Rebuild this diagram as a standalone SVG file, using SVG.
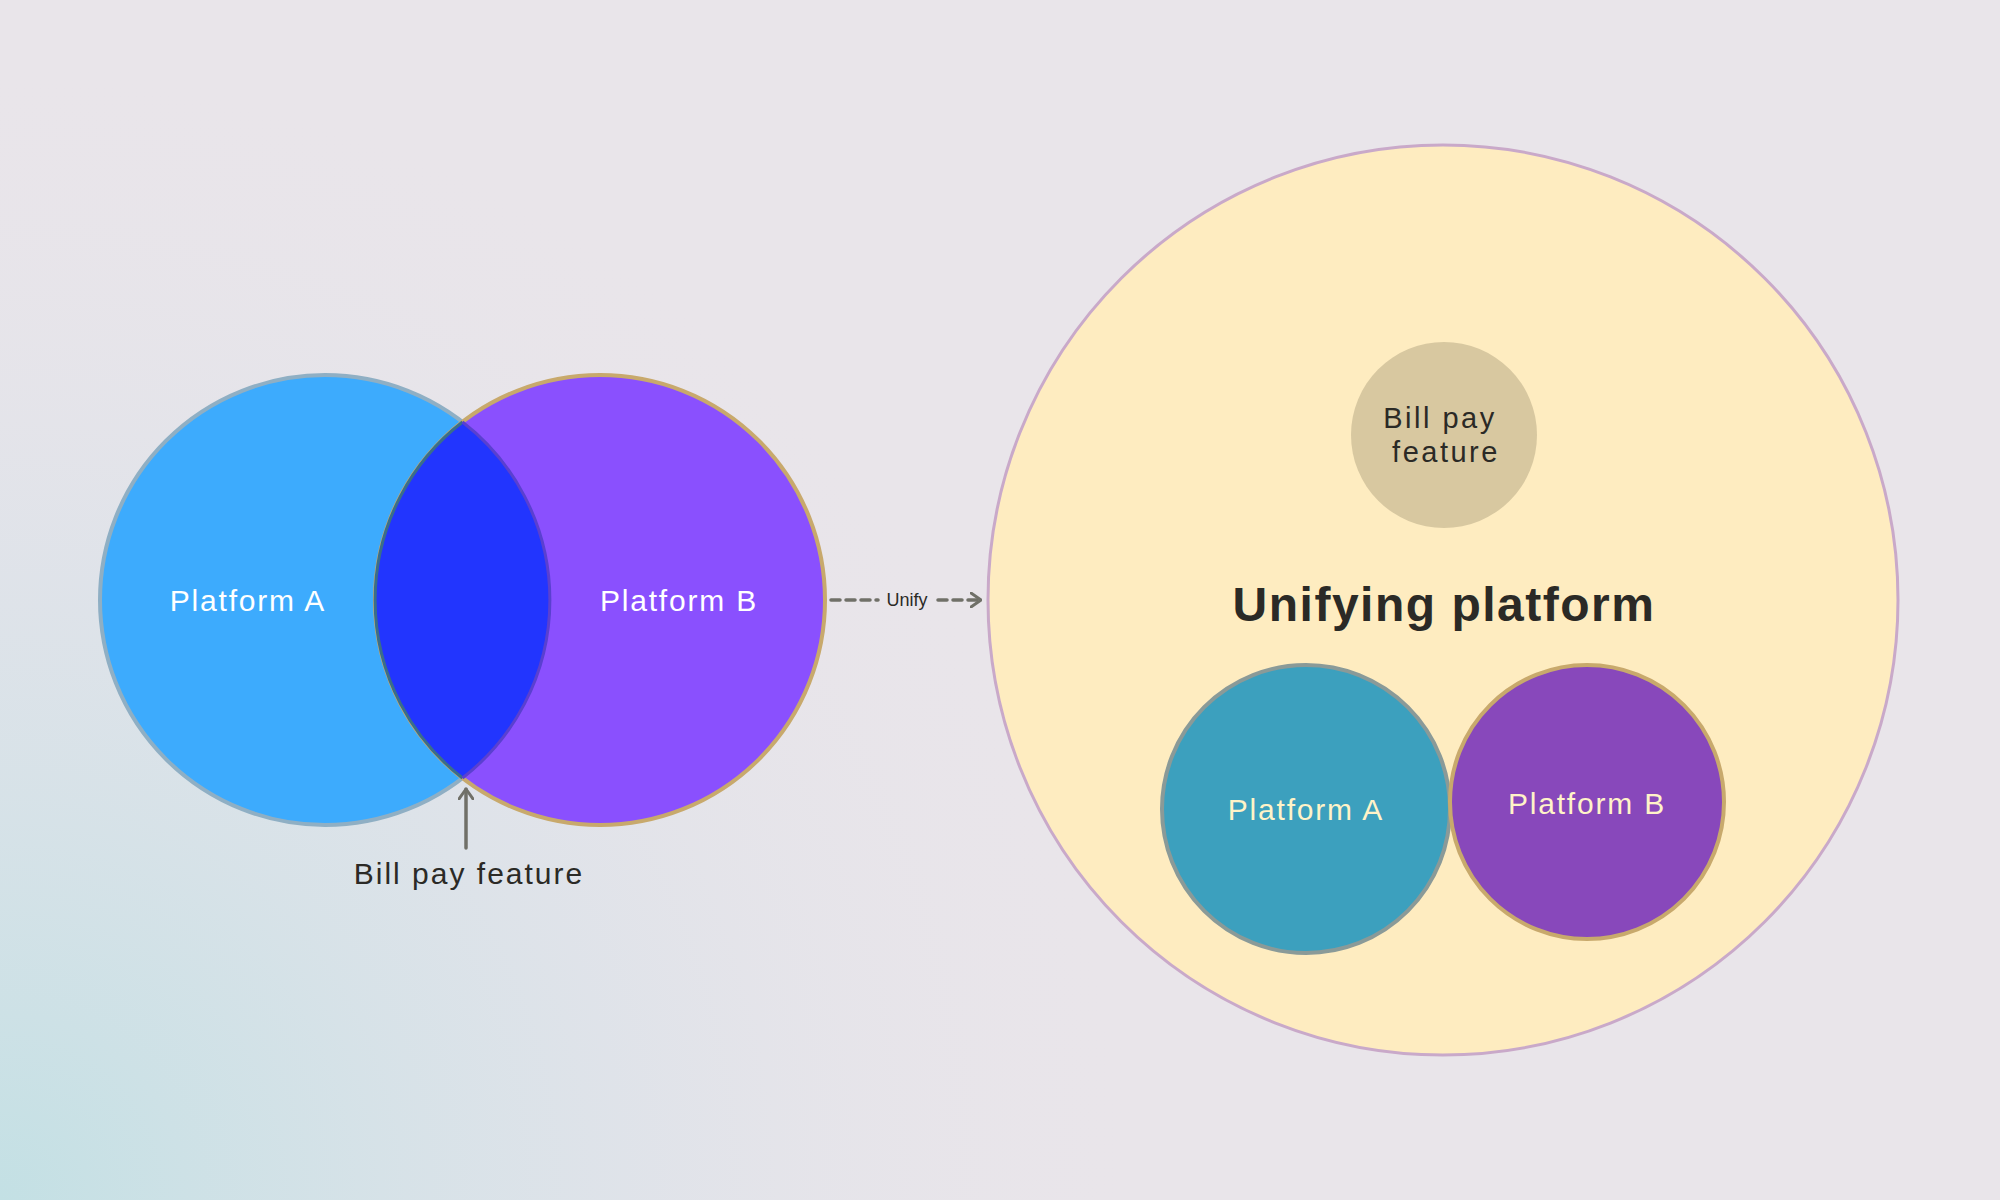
<svg xmlns="http://www.w3.org/2000/svg" width="2000" height="1200" viewBox="0 0 2000 1200">
<defs>
<radialGradient id="bgTeal" cx="0" cy="1200" r="1150" gradientUnits="userSpaceOnUse">
<stop offset="0" stop-color="#c3e0e4"/>
<stop offset="0.55" stop-color="#dae2e9" stop-opacity="0.65"/>
<stop offset="1" stop-color="#e9e5ea" stop-opacity="0"/>
</radialGradient>
<clipPath id="clipA"><circle cx="325" cy="600" r="225"/></clipPath>
<marker id="arrowhead" viewBox="0 0 12 16" refX="11" refY="8" markerWidth="12" markerHeight="16" markerUnits="userSpaceOnUse" orient="auto">
<path d="M1,1 L11,8 L1,15" fill="none" stroke="#707068" stroke-width="3" stroke-linecap="round" stroke-linejoin="round"/>
</marker>
</defs>
<style>
text { font-family: "Liberation Sans", "DejaVu Sans", sans-serif; text-anchor: middle; dominant-baseline: central; }
.light { fill: #ffffff; font-size: 30px; letter-spacing: 1.8px; }
.cream { fill: #fff3c8; font-size: 30px; letter-spacing: 1.8px; }
.dark { fill: #2b2a26; }
.conn { fill: none; stroke: #707068; stroke-width: 3.5; stroke-linecap: round; }
</style>
<rect width="2000" height="1200" fill="#e9e5ea"/>
<rect width="2000" height="1200" fill="url(#bgTeal)"/>

<g id="platform-a">
<circle cx="325" cy="600" r="225" fill="#3dabfd" stroke="#8fafc4" stroke-width="4"/>
<text class="light" x="248" y="600">Platform A</text>
</g>
<g id="platform-b">
<circle cx="600" cy="600" r="225" fill="#8a50fe" stroke="#c8a96c" stroke-width="4"/>
<text class="light" x="679" y="600">Platform B</text>
</g>
<g id="overlap">
<circle cx="600" cy="600" r="225" fill="#2235fe" clip-path="url(#clipA)"/>
<path d="M462.5,422 A225,225 0 0 0 462.5,778" fill="none" stroke="#3a6e8a" stroke-width="3"/>
<path d="M462.5,422 A225,225 0 0 1 462.5,778" fill="none" stroke="#5a40d0" stroke-width="3"/>
</g>

<g id="bill-pay-label">
<text class="dark" x="469" y="873" font-size="30" letter-spacing="2">Bill pay feature</text>
</g>

<g id="unifying-platform">
<circle cx="1443" cy="600" r="455" fill="#feecc0" stroke="#c9a9c9" stroke-width="3"/>
<text class="dark" x="1444" y="604" font-size="48" font-weight="bold" letter-spacing="1.5">Unifying platform</text>
</g>
<g id="bill-pay-feature">
<circle cx="1444" cy="435" r="93" fill="#d8c8a0"/>
<text class="dark" x="1440" y="418" font-size="29" letter-spacing="2.5">Bill pay</text>
<text class="dark" x="1446" y="452" font-size="29" letter-spacing="2.5">feature</text>
</g>
<g id="platform-a-unified">
<circle cx="1306" cy="809" r="144" fill="#3ca0be" stroke="#8a9a98" stroke-width="4"/>
<text class="cream" x="1306" y="809">Platform A</text>
</g>
<g id="platform-b-unified">
<circle cx="1587" cy="802" r="137" fill="#8848bb" stroke="#c8a96c" stroke-width="4"/>
<text class="cream" x="1587" y="803">Platform B</text>
</g>

<g id="connectors">
<line class="conn" x1="466" y1="848" x2="466" y2="789" marker-end="url(#arrowhead)"/>
<line class="conn" x1="831" y1="600" x2="878" y2="600" stroke-dasharray="9 6"/>
<line class="conn" x1="938" y1="600" x2="981" y2="600" stroke-dasharray="9 6" marker-end="url(#arrowhead)"/>
<text class="dark" x="907" y="600" font-size="18" fill="#3a3a36">Unify</text>
</g>
</svg>
